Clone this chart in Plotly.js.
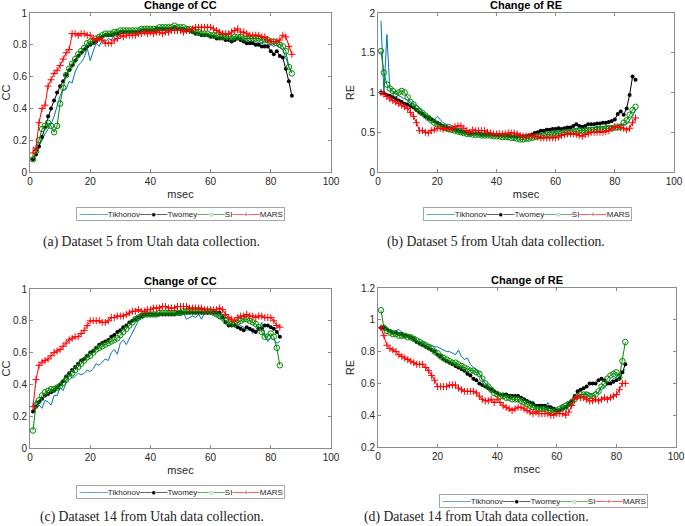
<!DOCTYPE html>
<html><head><meta charset="utf-8">
<script src="https://cdn.plot.ly/plotly-3.0.1.min.js"></script>
<style>html,body{margin:0;padding:0;background:#fff}#chart{width:685px;height:526px}</style>
</head><body><div id="chart"></div>
<script>
// ---------- data ----------
const seriesNames = ["Tikhonov","Twomey","SI","MARS"];
const panelTitles = ["Change of CC","Change of RE","Change of CC","Change of RE"];
const yLabels = ["CC","RE","CC","RE"];
const captions = ["(a) Dataset 5 from Utah data collection.","(b) Dataset 5 from Utah data collection.",
                  "(c) Dataset 14 from Utah data collection.","(d) Dataset 14 from Utah data collection."];

// Dataset 5 (x = 1..87)
const ccTik5 = [0.16,0.13,0.17,0.20,0.24,0.27,0.30,0.35,0.42,0.48, 0.52,0.52,0.57,0.56,0.63,0.67,0.69,0.72,0.78,0.70,
 0.76,0.81,0.79,0.83,0.82,0.84,0.83,0.86,0.85,0.87, 0.87,0.88,0.88,0.88,0.88,0.89,0.89,0.89,0.89,0.89,
 0.89,0.90,0.90,0.90,0.90,0.90,0.90,0.91,0.90,0.90, 0.90,0.89,0.88,0.87,0.87,0.86,0.86,0.86,0.86,0.85,
 0.85,0.85,0.84,0.84,0.84,0.84,0.83,0.84,0.84,0.84, 0.83,0.83,0.82,0.82,0.82,0.81,0.81,0.80,0.80,0.80,
 0.79,0.80,0.78,0.77,0.72,0.66,0.63];
const ccTwo5 = [0.08,0.11,0.16,0.22,0.28,0.35,0.40,0.45,0.50,0.54, 0.57,0.61,0.64,0.67,0.70,0.73,0.75,0.77,0.79,0.80,
 0.81,0.82,0.84,0.85,0.86,0.86,0.86,0.87,0.87,0.88, 0.88,0.88,0.88,0.88,0.88,0.88,0.89,0.89,0.89,0.89,
 0.89,0.90,0.90,0.90,0.90,0.90,0.90,0.91,0.90,0.90, 0.90,0.89,0.89,0.88,0.87,0.87,0.86,0.86,0.86,0.85,
 0.85,0.84,0.84,0.84,0.83,0.83,0.82,0.83,0.84,0.83, 0.82,0.81,0.81,0.81,0.80,0.80,0.79,0.79,0.79,0.76,
 0.74,0.76,0.73,0.72,0.65,0.57,0.48];
const ccSI5 = [0.08,0.13,0.20,0.27,0.29,0.31,0.29,0.25,0.29,0.43, 0.53,0.61,0.65,0.68,0.71,0.74,0.76,0.78,0.81,0.82,
 0.82,0.84,0.85,0.86,0.87,0.87,0.87,0.88,0.88,0.89, 0.89,0.89,0.89,0.89,0.89,0.89,0.90,0.90,0.90,0.90,
 0.90,0.90,0.91,0.91,0.91,0.91,0.91,0.92,0.91,0.91, 0.91,0.90,0.90,0.89,0.88,0.88,0.87,0.87,0.87,0.86,
 0.86,0.86,0.85,0.85,0.85,0.85,0.84,0.85,0.85,0.85, 0.84,0.84,0.84,0.84,0.84,0.84,0.83,0.83,0.83,0.82,
 0.82,0.81,0.80,0.79,0.76,0.66,0.62];
const ccMars5 = [0.12,0.15,0.31,0.40,0.42,0.54,0.58,0.62,0.64,0.67, 0.71,0.75,0.77,0.87,0.87,0.86,0.87,0.87,0.86,0.86,
 0.84,0.83,0.84,0.83,0.81,0.81,0.81,0.83,0.84,0.86, 0.85,0.86,0.86,0.86,0.86,0.87,0.87,0.88,0.87,0.88,
 0.87,0.88,0.88,0.87,0.88,0.88,0.89,0.89,0.89,0.89, 0.88,0.89,0.89,0.90,0.91,0.91,0.91,0.91,0.91,0.91,
 0.90,0.89,0.88,0.87,0.87,0.87,0.88,0.89,0.90,0.88, 0.88,0.87,0.86,0.86,0.86,0.86,0.85,0.85,0.83,0.82,
 0.82,0.82,0.83,0.86,0.85,0.79,0.74];

const reTik5 = [1.90,1.00,1.73,1.05,1.00,0.98,0.96,0.94,0.92,0.90, 0.86,0.86,0.84,0.80,0.76,0.72,0.70,0.68,0.66,0.70,
 0.66,0.62,0.60,0.60,0.58,0.56,0.55,0.54,0.52,0.52, 0.51,0.50,0.50,0.50,0.49,0.49,0.48,0.48,0.48,0.48,
 0.47,0.47,0.46,0.46,0.46,0.45,0.45,0.44,0.44,0.44, 0.45,0.46,0.47,0.48,0.48,0.49,0.49,0.50,0.50,0.50,
 0.51,0.52,0.52,0.53,0.53,0.54,0.55,0.55,0.54,0.55, 0.55,0.56,0.56,0.56,0.57,0.57,0.57,0.58,0.57,0.57,
 0.58,0.58,0.60,0.60,0.65,0.70,0.78];
const reTwo5 = [1.00,0.99,0.97,0.96,0.94,0.92,0.90,0.88,0.86,0.85, 0.83,0.81,0.78,0.75,0.73,0.70,0.68,0.66,0.64,0.62,
 0.60,0.58,0.57,0.55,0.54,0.53,0.52,0.51,0.50,0.49, 0.48,0.48,0.48,0.48,0.47,0.47,0.47,0.47,0.47,0.47,
 0.46,0.46,0.46,0.46,0.45,0.45,0.45,0.45,0.45,0.45, 0.46,0.47,0.49,0.50,0.52,0.52,0.53,0.53,0.54,0.54,
 0.55,0.54,0.55,0.56,0.56,0.58,0.60,0.58,0.57,0.58, 0.60,0.60,0.60,0.61,0.61,0.62,0.62,0.63,0.64,0.66,
 0.73,0.76,0.72,0.80,0.97,1.20,1.16];
const reSI5 = [1.52,1.25,1.10,1.05,1.02,0.98,1.00,1.02,1.00,0.94, 0.88,0.85,0.80,0.77,0.74,0.71,0.68,0.65,0.62,0.60,
 0.58,0.56,0.55,0.54,0.53,0.52,0.51,0.50,0.49,0.48, 0.48,0.47,0.47,0.47,0.46,0.46,0.46,0.46,0.45,0.45,
 0.45,0.44,0.44,0.44,0.43,0.43,0.42,0.41,0.41,0.42, 0.42,0.43,0.44,0.45,0.45,0.46,0.47,0.47,0.48,0.48,
 0.49,0.49,0.50,0.50,0.50,0.51,0.51,0.52,0.52,0.52, 0.53,0.53,0.53,0.54,0.54,0.54,0.55,0.55,0.55,0.56,
 0.56,0.57,0.62,0.65,0.72,0.78,0.82];
const reMars5 = [1.00,0.98,0.95,0.92,0.90,0.88,0.86,0.84,0.82,0.80, 0.75,0.70,0.62,0.52,0.52,0.50,0.49,0.52,0.53,0.55,
 0.55,0.54,0.55,0.54,0.55,0.57,0.58,0.58,0.55,0.52, 0.50,0.53,0.52,0.52,0.52,0.52,0.50,0.49,0.48,0.48,
 0.48,0.48,0.48,0.49,0.49,0.49,0.48,0.46,0.45,0.45, 0.45,0.46,0.45,0.44,0.43,0.43,0.43,0.43,0.43,0.43,
 0.44,0.46,0.47,0.48,0.48,0.48,0.47,0.46,0.45,0.47, 0.48,0.50,0.50,0.50,0.50,0.50,0.51,0.52,0.55,0.57,
 0.57,0.56,0.55,0.53,0.55,0.62,0.68];

// Dataset 14 (x = 1..83)
const ccTik14 = [0.23,0.30,0.27,0.25,0.30,0.29,0.27,0.33,0.33,0.38, 0.36,0.41,0.46,0.44,0.45,0.47,0.46,0.47,0.49,0.48,
 0.50,0.53,0.52,0.54,0.56,0.55,0.60,0.62,0.59,0.66, 0.68,0.65,0.69,0.73,0.76,0.80,0.82,0.82,0.84,0.84,
 0.84,0.84,0.84,0.84,0.84,0.84,0.84,0.84,0.84,0.83, 0.85,0.81,0.82,0.83,0.82,0.84,0.81,0.85,0.84,0.85,
 0.85,0.83,0.81,0.84,0.79,0.80,0.77,0.78,0.76,0.77, 0.76,0.74,0.75,0.72,0.74,0.74,0.79,0.71,0.67,0.69,
 0.68,0.66,0.67];
const ccTwo14 = [0.23,0.26,0.29,0.31,0.33,0.34,0.35,0.36,0.38,0.40, 0.42,0.45,0.47,0.49,0.51,0.53,0.55,0.56,0.58,0.60,
 0.61,0.63,0.65,0.66,0.67,0.68,0.70,0.71,0.73,0.74, 0.76,0.77,0.79,0.80,0.81,0.82,0.83,0.84,0.84,0.84,
 0.84,0.84,0.84,0.84,0.84,0.84,0.84,0.84,0.85,0.85, 0.85,0.85,0.85,0.85,0.85,0.85,0.85,0.85,0.85,0.85,
 0.85,0.85,0.85,0.82,0.79,0.77,0.77,0.77,0.76,0.75, 0.74,0.76,0.75,0.74,0.73,0.75,0.75,0.77,0.77,0.76,
 0.75,0.73,0.70];
const ccSI14 = [0.11,0.27,0.30,0.33,0.35,0.36,0.37,0.37,0.38,0.39, 0.41,0.43,0.45,0.47,0.49,0.51,0.53,0.55,0.57,0.58,
 0.60,0.62,0.63,0.64,0.65,0.66,0.67,0.68,0.69,0.71, 0.73,0.75,0.77,0.79,0.81,0.82,0.83,0.84,0.84,0.84,
 0.84,0.84,0.85,0.85,0.85,0.85,0.85,0.85,0.85,0.85, 0.86,0.86,0.86,0.86,0.86,0.86,0.86,0.86,0.86,0.86,
 0.85,0.84,0.83,0.82,0.80,0.79,0.78,0.78,0.79,0.80, 0.81,0.81,0.80,0.79,0.78,0.76,0.73,0.70,0.70,0.72,
 0.70,0.63,0.52];
const ccMars14 = [0.26,0.43,0.52,0.54,0.55,0.56,0.58,0.60,0.61,0.62, 0.64,0.66,0.68,0.69,0.70,0.70,0.72,0.74,0.77,0.80,
 0.80,0.80,0.80,0.79,0.79,0.80,0.82,0.82,0.83,0.83, 0.83,0.84,0.85,0.86,0.86,0.87,0.86,0.86,0.87,0.87,
 0.88,0.88,0.88,0.89,0.89,0.88,0.88,0.88,0.89,0.89, 0.89,0.89,0.88,0.88,0.88,0.88,0.88,0.87,0.87,0.87,
 0.87,0.87,0.88,0.87,0.84,0.82,0.81,0.80,0.82,0.83, 0.83,0.84,0.83,0.83,0.82,0.83,0.83,0.82,0.82,0.82,
 0.80,0.77,0.76];

const reTik14 = [0.96,0.94,0.94,0.93,0.93,0.93,0.94,0.92,0.91,0.90, 0.89,0.88,0.87,0.86,0.86,0.85,0.84,0.84,0.83,0.83,
 0.82,0.81,0.80,0.80,0.79,0.78,0.81,0.77,0.75,0.76, 0.72,0.70,0.69,0.66,0.62,0.60,0.59,0.57,0.55,0.55,
 0.53,0.53,0.53,0.53,0.53,0.52,0.52,0.51,0.50,0.49, 0.47,0.49,0.46,0.46,0.44,0.44,0.48,0.44,0.43,0.42,
 0.44,0.47,0.42,0.46,0.47,0.50,0.52,0.53,0.53,0.54, 0.54,0.53,0.55,0.54,0.58,0.57,0.60,0.61,0.63,0.64,
 0.66,0.67,0.69];
const reTwo14 = [0.95,0.95,0.94,0.93,0.92,0.92,0.91,0.91,0.90,0.90, 0.89,0.88,0.86,0.85,0.84,0.83,0.82,0.81,0.80,0.78,
 0.77,0.75,0.74,0.73,0.72,0.71,0.70,0.69,0.68,0.66, 0.65,0.63,0.62,0.60,0.59,0.58,0.57,0.56,0.55,0.54,
 0.53,0.53,0.53,0.52,0.52,0.52,0.52,0.51,0.50,0.49, 0.48,0.47,0.46,0.46,0.46,0.46,0.45,0.45,0.44,0.43,
 0.43,0.44,0.45,0.47,0.49,0.52,0.55,0.56,0.57,0.58, 0.60,0.60,0.60,0.62,0.63,0.62,0.60,0.60,0.61,0.62,
 0.63,0.67,0.72];
const reSI14 = [1.06,0.95,0.93,0.92,0.91,0.91,0.90,0.90,0.90,0.89, 0.89,0.88,0.87,0.86,0.85,0.84,0.83,0.82,0.80,0.79,
 0.77,0.76,0.75,0.74,0.73,0.73,0.72,0.71,0.70,0.69, 0.68,0.68,0.67,0.66,0.63,0.60,0.58,0.56,0.54,0.53,
 0.52,0.52,0.51,0.51,0.50,0.50,0.50,0.49,0.48,0.47, 0.46,0.45,0.44,0.44,0.44,0.44,0.43,0.43,0.42,0.43,
 0.44,0.45,0.46,0.47,0.48,0.50,0.52,0.53,0.53,0.53, 0.52,0.52,0.53,0.55,0.58,0.60,0.63,0.65,0.66,0.67,
 0.64,0.74,0.86];
const reMars14 = [0.95,0.90,0.84,0.82,0.81,0.80,0.78,0.77,0.76,0.75, 0.74,0.73,0.72,0.72,0.72,0.70,0.68,0.65,0.62,0.58,
 0.58,0.58,0.58,0.59,0.59,0.59,0.57,0.56,0.55,0.55, 0.55,0.55,0.54,0.52,0.50,0.49,0.49,0.50,0.48,0.50,
 0.48,0.46,0.45,0.44,0.43,0.44,0.45,0.45,0.44,0.43, 0.42,0.41,0.42,0.41,0.41,0.41,0.41,0.40,0.40,0.41,
 0.41,0.41,0.40,0.42,0.46,0.50,0.52,0.51,0.51,0.50, 0.49,0.49,0.50,0.49,0.50,0.51,0.50,0.51,0.52,0.53,
 0.56,0.60,0.60];

const yRanges = [[0,1],[0,2],[0,1],[0.2,1.2]];
const yTicks = [0.2,0.5,0.2,0.2];
const xTickStep = 20;
const xRange = [0,100];

// ---------- build ----------
const panels = [
  [ccTik5, ccTwo5, ccSI5, ccMars5],
  [reTik5, reTwo5, reSI5, reMars5],
  [ccTik14, ccTwo14, ccSI14, ccMars14],
  [reTik14, reTwo14, reSI14, reMars14]
];
const colors = ["#0072BD","#000000","#008a00","#ff0000"];
const markers = [
  null,
  {symbol:"circle", size:4, color:"#000000"},
  {symbol:"circle-open", size:5.5, color:"#008a00", line:{width:1, color:"#008a00"}},
  {symbol:"cross-thin", size:5, color:"#ff0000", line:{width:1, color:"#ff0000"}}
];
const legendGlyphs = ["\u2500\u2500\u2500\u2500\u2500", "\u2500\u2500\u25CF\u2500\u2500",
                      "\u2500\u2500\u25CB\u2500\u2500", "\u2500\u2500+\u2500\u2500"];

const traces = [];
panels.forEach((series, p) => {
  const ax = p === 0 ? "" : String(p + 1);
  series.forEach((vals, s) => {
    const t = {
      type:"scatter",
      x: vals.map((_, i) => i + 1),
      y: vals,
      name: seriesNames[s],
      xaxis: "x" + ax, yaxis: "y" + ax,
      mode: s === 0 ? "lines" : "lines+markers",
      line: {color: colors[s], width: 1},
      showlegend: false
    };
    if (markers[s]) t.marker = markers[s];
    traces.push(t);
  });
});

const W = 685, H = 526;
const px = v => v / W, py = v => 1 - v / H;
const boxes = [ // [left, right, top, bottom] in px
  [30, 331, 13, 172],
  [378, 674, 13, 172],
  [30, 331, 289, 448],
  [378, 676, 288, 447]
];
const legendPos = [[180, 214.5],[527, 214.5],[180.5, 491.5],[543, 500.5]];
const captionPos = [[151, 242],[496, 242],[152, 517],[476, 517]];

const axisFont = {family:"Liberation Sans, Arial, sans-serif", size:10, color:"#262626"};
const layout = {
  width: W, height: H,
  margin: {l:0, r:0, t:0, b:0},
  paper_bgcolor: "#fff", plot_bgcolor: "#fff",
  font: {family:"Liberation Sans, Arial, sans-serif", color:"#262626"},
  annotations: [],
  showlegend: false
};
const legendText = seriesNames.map((n, s) =>
  '<span style="color:' + colors[s] + '">' + legendGlyphs[s] + '</span>' + n).join("");

boxes.forEach((b, p) => {
  const ax = p === 0 ? "" : String(p + 1);
  const common = {
    showline:true, mirror:"ticks", linecolor:"#8a8a8a", linewidth:1,
    ticks:"inside", ticklen:3, tickcolor:"#8a8a8a", tickwidth:1,
    showgrid:false, zeroline:false, tickfont: axisFont
  };
  layout["xaxis" + ax] = Object.assign({}, common, {
    domain:[px(b[0]), px(b[1])], range: xRange, dtick: xTickStep, tick0: 0,
    anchor: "y" + ax,
    title:{text:"msec", font:{family:axisFont.family, size:11, color:"#262626"}, standoff: 4}
  });
  layout["yaxis" + ax] = Object.assign({}, common, {
    domain:[py(b[3]), py(b[2])], range: yRanges[p], dtick: yTicks[p], tick0: 0,
    anchor: "x" + ax,
    title:{text: yLabels[p], font:{family:axisFont.family, size:11, color:"#262626"}, standoff: 4}
  });
  // legend box
  layout.annotations.push({
    text: legendText, xref:"paper", yref:"paper",
    x: px(legendPos[p][0]), y: py(legendPos[p][1]), xanchor:"center", yanchor:"middle",
    showarrow:false, bgcolor:"#fff", bordercolor:"#a6a6a6", borderwidth:1, borderpad:1.5,
    font:{family:axisFont.family, size:8, color:"#262626"}
  });
  layout.annotations.push({
    text:"<b>" + panelTitles[p] + "</b>", xref:"paper", yref:"paper",
    x: px((b[0] + b[1]) / 2), y: py(b[2]), xanchor:"center", yanchor:"bottom",
    showarrow:false, font:{family:axisFont.family, size:11, color:"#000"}
  });
  layout.annotations.push({
    text: captions[p], xref:"paper", yref:"paper",
    x: px(captionPos[p][0]), y: py(captionPos[p][1]), xanchor:"center", yanchor:"middle",
    showarrow:false, font:{family:"Liberation Serif, Times New Roman, serif", size:13.7, color:"#222"}
  });
});

Plotly.newPlot("chart", traces, layout, {staticPlot:true, displayModeBar:false});
</script>
</body></html>
